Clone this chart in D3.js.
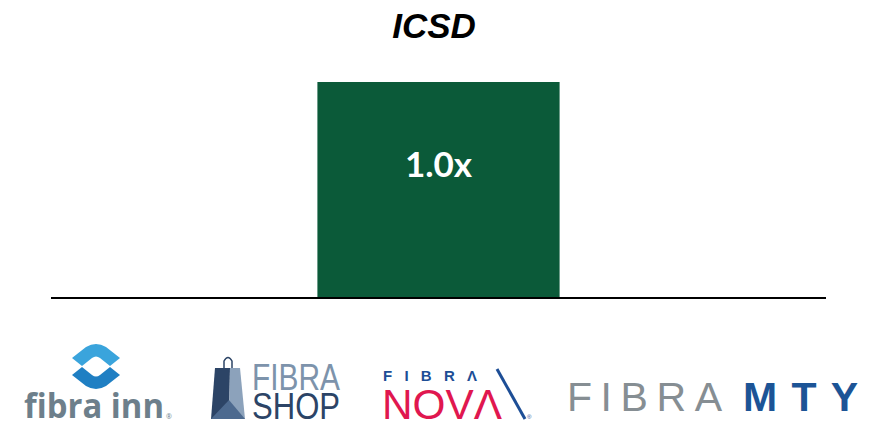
<!DOCTYPE html>
<html>
<head>
<meta charset="utf-8">
<script src="https://cdn.jsdelivr.net/npm/d3@7"></script>
<style>
  body { margin: 0; background: #fff; }
  svg { display: block; }
</style>
</head>
<body>
<div id="chart"></div>
<script>
// chart data
var categories = ["ICSD"];
var values = [1.0];
var labels = ["1.0x"];
var title = "ICSD";

var width = 878, height = 424;

var svg = d3.select("#chart").append("svg")
    .attr("width", width)
    .attr("height", height);

var x = d3.scaleBand()
    .domain(categories)
    .range([51, 826])
    .paddingInner(0)
    .paddingOuter(1.1);

var y = d3.scaleLinear()
    .domain([0, 1.0])
    .range([298, 82]);

// title
svg.append("text")
    .attr("x", 434)
    .attr("y", 38)
    .attr("text-anchor", "middle")
    .style("font-family", "Liberation Sans, Arial, sans-serif")
    .style("font-weight", "bold")
    .style("font-style", "italic")
    .style("font-size", "35px")
    .text(title);

// bars
svg.selectAll(".bar").data(values).enter().append("rect")
    .attr("class", "bar")
    .attr("x", function(d, i) { return x(categories[i]); })
    .attr("width", x.bandwidth())
    .attr("y", function(d) { return y(d); })
    .attr("height", function(d) { return y(0) - y(d); })
    .attr("fill", "#0b5a39");

svg.selectAll(".lbl").data(values).enter().append("text")
    .attr("class", "lbl")
    .attr("x", function(d, i) { return x(categories[i]) + x.bandwidth() / 2; })
    .attr("y", function(d) { return y(d) + 95; })
    .attr("text-anchor", "middle")
    .attr("fill", "#fff")
    .style("font-family", "Lato, 'Open Sans', sans-serif")
    .style("font-weight", "bold")
    .style("font-size", "35px")
    .text(function(d, i) { return labels[i]; });

// baseline
svg.append("line")
    .attr("x1", 51).attr("x2", 826)
    .attr("y1", y(0)).attr("y2", y(0))
    .attr("stroke", "#000")
    .attr("stroke-width", 2);

// ---- logos ----
var logos = svg.append("g").attr("class", "logos");

// fibra inn
var inn = logos.append("g");
inn.append("path")
    .attr("d", "M72,358 L86,347 Q96,341 106,347 L120,358 L110,366 L100,358 Q96,355 92,358 L82,366 Z")
    .attr("fill", "#3aa4dc");
inn.append("path")
    .attr("d", "M72,375 L82,367 L92,375 Q96,378 100,375 L110,367 L120,375 L106,386 Q96,392 86,386 Z")
    .attr("fill", "#1f7fc3");
inn.append("text")
    .attr("x", 24).attr("y", 418)
    .attr("fill", "#6d7f8b")
    .attr("textLength", 140)
    .attr("lengthAdjust", "spacingAndGlyphs")
    .style("font-family", "'Open Sans', sans-serif")
    .style("font-weight", "bold")
    .style("font-size", "34px")
    .text("fibra inn");
inn.append("text")
    .attr("x", 166).attr("y", 419)
    .attr("fill", "#6d7f8b")
    .style("font-family", "'Open Sans', sans-serif")
    .style("font-size", "7px")
    .text("®");

// fibra shop
var shop = logos.append("g");
shop.append("path")
    .attr("d", "M215,368 L230,368 L229,419 L211,419 Z")
    .attr("fill", "#2c4466");
shop.append("path")
    .attr("d", "M230,368 L240,368 L245,419 L229,419 Z")
    .attr("fill", "#8ca2bb");
shop.append("path")
    .attr("d", "M211,419 L229,400 L245,419 Z")
    .attr("fill", "#4d6a8f");
shop.append("path")
    .attr("d", "M224,368 L224,361 Q228,354 232,361 L232,368")
    .attr("fill", "none")
    .attr("stroke", "#2c4466")
    .attr("stroke-width", 1.5);
shop.append("text")
    .attr("x", 252).attr("y", 390)
    .attr("fill", "#7d93ab")
    .attr("textLength", 88)
    .attr("lengthAdjust", "spacingAndGlyphs")
    .style("font-family", "'Liberation Sans', Arial, sans-serif")
    .style("font-weight", "300")
    .style("font-size", "37px")
    .text("FIBRA");
shop.append("text")
    .attr("x", 252).attr("y", 419)
    .attr("fill", "#2c4466")
    .attr("textLength", 88)
    .attr("lengthAdjust", "spacingAndGlyphs")
    .style("font-family", "'Liberation Sans', Arial, sans-serif")
    .style("font-weight", "300")
    .style("font-size", "37px")
    .text("SHOP");

// fibra nova
var nova = logos.append("g");
nova.append("text")
    .attr("x", 383).attr("y", 381)
    .attr("fill", "#1d4e96")
    .attr("textLength", 94)
    .attr("lengthAdjust", "spacing")
    .style("font-family", "'Liberation Sans', Arial, sans-serif")
    .style("font-weight", "bold")
    .style("font-size", "15px")
    .text("FIBR\u039B");
nova.append("text")
    .attr("x", 382).attr("y", 419)
    .attr("fill", "#e0174f")
    .attr("textLength", 120)
    .attr("lengthAdjust", "spacingAndGlyphs")
    .style("font-family", "'Liberation Sans', Arial, sans-serif")
    .style("font-size", "43px")
    .text("NOV\u039B");
nova.append("line")
    .attr("x1", 497).attr("y1", 369)
    .attr("x2", 525).attr("y2", 419)
    .attr("stroke", "#1d4e96")
    .attr("stroke-width", 3);
nova.append("text")
    .attr("x", 527).attr("y", 419)
    .attr("fill", "#1d4e96")
    .style("font-family", "'Liberation Sans', Arial, sans-serif")
    .style("font-size", "6px")
    .text("®");

// fibra mty
var mty = logos.append("g");
mty.append("text")
    .attr("x", 567).attr("y", 411)
    .attr("fill", "#868e93")
    .attr("textLength", 155)
    .attr("lengthAdjust", "spacing")
    .style("font-family", "'Liberation Sans', Arial, sans-serif")
    .style("font-size", "41px")
    .text("FIBRA");
mty.append("text")
    .attr("x", 743).attr("y", 411)
    .attr("fill", "#1c5496")
    .attr("textLength", 115)
    .attr("lengthAdjust", "spacing")
    .style("font-family", "'Liberation Sans', Arial, sans-serif")
    .style("font-weight", "bold")
    .style("font-size", "41px")
    .text("MTY");
</script>
</body>
</html>
